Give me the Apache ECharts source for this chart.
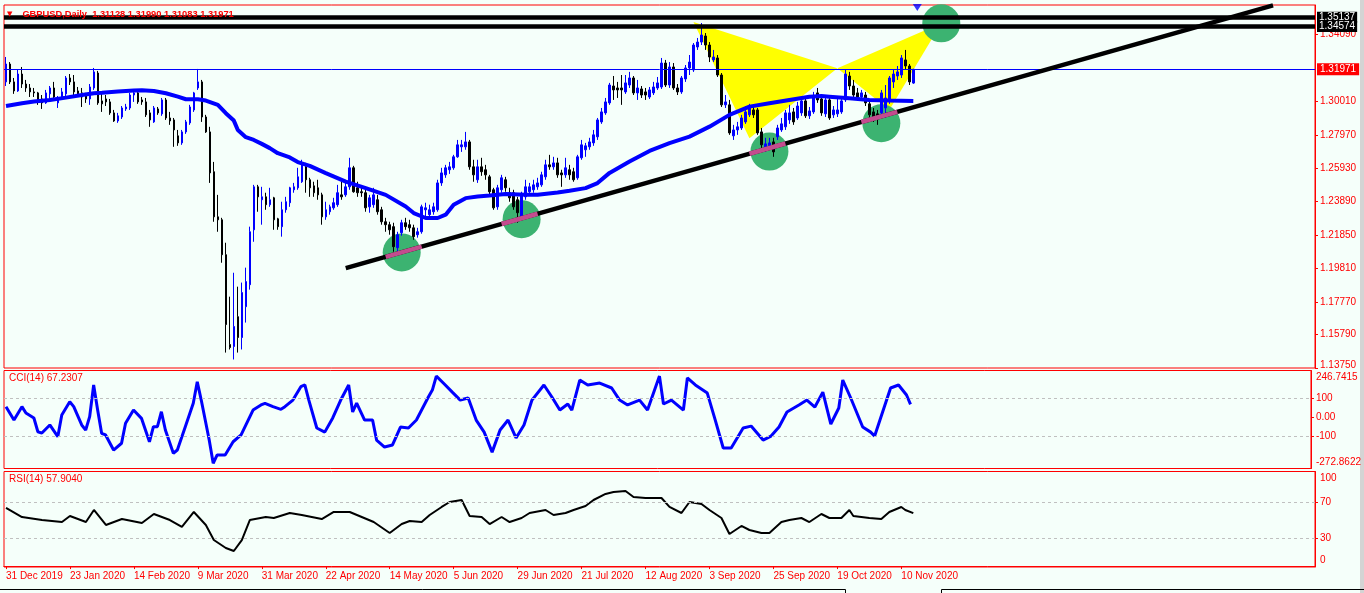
<!DOCTYPE html>
<html><head><meta charset="utf-8">
<script src="https://cdn.jsdelivr.net/npm/echarts@6/dist/echarts.min.js"></script>
<style>html,body{margin:0;padding:0;background:#f5fffa;}#c{width:1364px;height:593px;}</style>
</head><body><div id="c"></div>
<script>
// ---------- data ----------
const dateLabels = ['31 Dec 2019','23 Jan 2020','14 Feb 2020','9 Mar 2020','31 Mar 2020','22 Apr 2020','14 May 2020','5 Jun 2020','29 Jun 2020','21 Jul 2020','12 Aug 2020','3 Sep 2020','25 Sep 2020','19 Oct 2020','10 Nov 2020'];
const labelStep = 16;
const slotCount = 328;
// daily candles [open, close, low, high]
const ohlc = [
[1.3120,1.3229,1.3095,1.3272],[1.3229,1.3120,1.3107,1.3241],[1.3120,1.3065,1.3047,1.3144],[1.3065,1.3168,1.3059,1.3193],
[1.3168,1.3107,1.3083,1.3211],[1.3107,1.3083,1.3059,1.3132],[1.3083,1.3059,1.3028,1.3107],[1.3059,1.3053,1.3028,1.3083],
[1.3053,1.3010,1.2980,1.3059],[1.3016,1.2992,1.2955,1.3040],[1.2992,1.3053,1.2986,1.3071],[1.3047,1.3083,1.3016,1.3095],
[1.3083,1.3028,1.3016,1.3120],[1.2992,1.3022,1.2961,1.3034],[1.3022,1.3059,1.3010,1.3083],[1.3047,1.3144,1.3028,1.3156],
[1.3144,1.3120,1.3101,1.3168],[1.3120,1.3059,1.3040,1.3162],[1.3065,1.3047,1.3028,1.3089],[1.3053,1.3028,1.2967,1.3083],
[1.3034,1.3016,1.2992,1.3053],[1.3016,1.3089,1.2980,1.3107],[1.3083,1.3181,1.3071,1.3205],[1.3174,1.2992,1.2980,1.3187],
[1.3004,1.2986,1.2937,1.3059],[1.3016,1.2998,1.2973,1.3040],[1.2998,1.2931,1.2919,1.3016],[1.2931,1.2882,1.2876,1.2949],
[1.2882,1.2913,1.2870,1.2931],[1.2906,1.2961,1.2894,1.2973],[1.2955,1.2967,1.2943,1.2986],[1.2961,1.3040,1.2949,1.3053],
[1.3040,1.3053,1.2998,1.3071],[1.3053,1.2998,1.2986,1.3071],[1.3010,1.2998,1.2980,1.3028],[1.2998,1.2919,1.2906,1.3022],
[1.2931,1.2888,1.2846,1.2949],[1.2876,1.2961,1.2870,1.2973],[1.2955,1.2931,1.2919,1.2967],[1.2925,1.3010,1.2913,1.3022],
[1.3010,1.2900,1.2888,1.3022],[1.2900,1.2882,1.2858,1.2937],[1.2888,1.2827,1.2724,1.2900],[1.2791,1.2748,1.2730,1.2827],
[1.2748,1.2815,1.2736,1.2827],[1.2815,1.2876,1.2803,1.2888],[1.2870,1.2967,1.2858,1.2980],[1.2949,1.3053,1.2937,1.3059],
[1.3083,1.3120,1.3071,1.3199],[1.3120,1.2906,1.2876,1.3132],[1.2906,1.2815,1.2809,1.2919],[1.2815,1.2565,1.2504,1.2846],
[1.2572,1.2297,1.2267,1.2632],[1.2297,1.2279,1.2206,1.2431],[1.2279,1.2066,1.2017,1.2291],[1.2066,1.1640,1.1469,1.2139],
[1.1518,1.1500,1.1488,1.1810],[1.1506,1.1628,1.1427,1.1956],[1.1688,1.1561,1.1469,1.1871],[1.1561,1.1835,1.1488,1.1896],
[1.1749,1.1902,1.1652,1.1987],[1.1883,1.2206,1.1853,1.2237],[1.2218,1.2480,1.2145,1.2492],[1.2480,1.2419,1.2328,1.2492],
[1.2401,1.2419,1.2249,1.2480],[1.2419,1.2371,1.2340,1.2444],[1.2371,1.2401,1.2358,1.2474],[1.2413,1.2279,1.2218,1.2419],
[1.2285,1.2237,1.2218,1.2291],[1.2237,1.2340,1.2176,1.2389],[1.2340,1.2389,1.2322,1.2419],[1.2383,1.2474,1.2358,1.2480],
[1.2462,1.2480,1.2444,1.2504],[1.2474,1.2541,1.2462,1.2596],[1.2511,1.2626,1.2504,1.2645],[1.2602,1.2523,1.2444,1.2626],
[1.2523,1.2474,1.2419,1.2535],[1.2486,1.2444,1.2419,1.2511],[1.2474,1.2431,1.2401,1.2523],[1.2431,1.2297,1.2249,1.2444],
[1.2297,1.2340,1.2279,1.2389],[1.2328,1.2358,1.2310,1.2371],[1.2352,1.2383,1.2340,1.2413],[1.2371,1.2444,1.2358,1.2492],
[1.2431,1.2419,1.2401,1.2511],[1.2431,1.2480,1.2419,1.2504],[1.2480,1.2596,1.2462,1.2657],[1.2596,1.2450,1.2444,1.2608],
[1.2474,1.2444,1.2419,1.2511],[1.2450,1.2444,1.2419,1.2474],[1.2444,1.2352,1.2328,1.2462],[1.2358,1.2413,1.2322,1.2431],
[1.2371,1.2431,1.2352,1.2474],[1.2401,1.2328,1.2310,1.2431],[1.2340,1.2267,1.2249,1.2358],[1.2267,1.2249,1.2206,1.2291],
[1.2249,1.2218,1.2188,1.2267],[1.2237,1.2115,1.2084,1.2261],[1.2109,1.2188,1.2084,1.2206],[1.2200,1.2261,1.2182,1.2279],
[1.2261,1.2237,1.2218,1.2291],[1.2249,1.2230,1.2206,1.2279],[1.2230,1.2176,1.2157,1.2249],[1.2188,1.2206,1.2170,1.2230],
[1.2206,1.2358,1.2194,1.2371],[1.2340,1.2352,1.2291,1.2383],[1.2310,1.2340,1.2291,1.2371],[1.2328,1.2358,1.2310,1.2383],
[1.2340,1.2504,1.2328,1.2523],[1.2504,1.2565,1.2486,1.2596],[1.2553,1.2596,1.2535,1.2614],[1.2584,1.2602,1.2559,1.2632],
[1.2596,1.2663,1.2584,1.2675],[1.2663,1.2736,1.2657,1.2766],[1.2724,1.2736,1.2693,1.2766],[1.2724,1.2754,1.2706,1.2815],
[1.2754,1.2602,1.2584,1.2766],[1.2602,1.2553,1.2511,1.2645],[1.2523,1.2602,1.2504,1.2645],[1.2602,1.2572,1.2547,1.2657],
[1.2584,1.2553,1.2523,1.2614],[1.2541,1.2450,1.2431,1.2553],[1.2462,1.2352,1.2340,1.2474],[1.2358,1.2474,1.2340,1.2492],
[1.2462,1.2535,1.2444,1.2553],[1.2523,1.2474,1.2450,1.2541],[1.2444,1.2413,1.2389,1.2474],[1.2444,1.2358,1.2340,1.2462],
[1.2401,1.2322,1.2261,1.2419],[1.2297,1.2431,1.2279,1.2450],[1.2419,1.2480,1.2401,1.2523],[1.2450,1.2480,1.2431,1.2504],
[1.2462,1.2492,1.2444,1.2523],[1.2480,1.2504,1.2462,1.2535],[1.2492,1.2553,1.2480,1.2572],[1.2541,1.2614,1.2523,1.2645],
[1.2614,1.2602,1.2584,1.2675],[1.2602,1.2626,1.2584,1.2663],[1.2626,1.2553,1.2535,1.2657],[1.2565,1.2553,1.2480,1.2584],
[1.2553,1.2596,1.2535,1.2657],[1.2584,1.2553,1.2523,1.2614],[1.2572,1.2523,1.2511,1.2596],[1.2535,1.2663,1.2523,1.2675],
[1.2657,1.2736,1.2645,1.2766],[1.2706,1.2730,1.2663,1.2748],[1.2724,1.2754,1.2706,1.2779],[1.2748,1.2797,1.2730,1.2827],
[1.2785,1.2888,1.2766,1.2900],[1.2876,1.2937,1.2864,1.2961],[1.2931,1.2998,1.2919,1.3022],[1.2992,1.3101,1.2980,1.3114],
[1.3095,1.3071,1.3010,1.3156],[1.3083,1.3071,1.3022,1.3120],[1.3083,1.3071,1.2980,1.3162],[1.3059,1.3114,1.3047,1.3162],
[1.3101,1.3144,1.3083,1.3181],[1.3144,1.3053,1.3040,1.3156],[1.3053,1.3083,1.3010,1.3132],[1.3077,1.3040,1.3022,1.3095],
[1.3059,1.3040,1.3010,1.3083],[1.3028,1.3071,1.3016,1.3089],[1.3053,1.3089,1.3040,1.3120],[1.3083,1.3114,1.3071,1.3150],
[1.3089,1.3235,1.3077,1.3266],[1.3235,1.3101,1.3089,1.3254],[1.3101,1.3211,1.3083,1.3241],[1.3211,1.3083,1.3071,1.3235],
[1.3083,1.3059,1.3040,1.3107],[1.3059,1.3144,1.3047,1.3156],[1.3138,1.3205,1.3120,1.3223],[1.3205,1.3241,1.3162,1.3284],
[1.3193,1.3345,1.3181,1.3357],[1.3333,1.3363,1.3315,1.3388],[1.3363,1.3406,1.3345,1.3479],[1.3400,1.3345,1.3315,1.3418],
[1.3345,1.3272,1.3241,1.3363],[1.3254,1.3272,1.3241,1.3315],[1.3266,1.3162,1.3150,1.3284],[1.3162,1.2980,1.2967,1.3174],
[1.2980,1.2998,1.2961,1.3040],[1.2980,1.2809,1.2797,1.3010],[1.2791,1.2827,1.2766,1.2858],[1.2827,1.2846,1.2797,1.2876],
[1.2839,1.2900,1.2827,1.2919],[1.2876,1.2937,1.2864,1.2973],[1.2919,1.2961,1.2906,1.2986],[1.2949,1.2919,1.2900,1.2980],
[1.2949,1.2809,1.2797,1.2961],[1.2815,1.2736,1.2706,1.2839],[1.2718,1.2742,1.2693,1.2779],[1.2724,1.2748,1.2706,1.2779],
[1.2754,1.2693,1.2663,1.2779],[1.2785,1.2839,1.2766,1.2858],[1.2827,1.2864,1.2815,1.2900],[1.2846,1.2931,1.2827,1.2949],
[1.2888,1.2931,1.2864,1.2980],[1.2937,1.2876,1.2858,1.2961],[1.2900,1.2973,1.2888,1.2998],[1.2931,1.3004,1.2913,1.3028],
[1.3004,1.2913,1.2900,1.3022],[1.2913,1.2943,1.2894,1.2967],[1.2937,1.3034,1.2925,1.3059],[1.3053,1.3010,1.2992,1.3083],
[1.3016,1.2931,1.2913,1.3040],[1.2925,1.3010,1.2906,1.3034],[1.3010,1.2900,1.2888,1.3028],[1.2919,1.2949,1.2900,1.2973],
[1.2925,1.2949,1.2906,1.3022],[1.2937,1.3004,1.2925,1.3022],[1.3010,1.3168,1.2998,1.3193],[1.3156,1.3095,1.3071,1.3181],
[1.3095,1.3040,1.3028,1.3132],[1.3053,1.3028,1.3010,1.3083],[1.3028,1.3053,1.3010,1.3071],[1.3040,1.2992,1.2973,1.3059],
[1.2986,1.2919,1.2900,1.2998],[1.2937,1.2906,1.2876,1.2961],[1.2925,1.2900,1.2858,1.2949],[1.2931,1.3053,1.2913,1.3071],
[1.2961,1.3022,1.2900,1.3101],[1.3010,1.3144,1.2986,1.3156],[1.3120,1.3168,1.3083,1.3193],[1.3156,1.3181,1.3132,1.3217],
[1.3162,1.3266,1.3144,1.3284],[1.3254,1.3217,1.3193,1.3315],[1.3217,1.3120,1.3101,1.3229],[1.31128,1.31971,1.31083,1.31990]
];
// moving average [barIndex, value]
const maPoints = [[0,1.2973],[4,1.2990],[7,1.3000],[11,1.3010],[15,1.3024],[19,1.3040],[22,1.3051],[24,1.3054],[28,1.3061],[32,1.3067],[34,1.3069],[37,1.3065],[40,1.3051],[43,1.3030],[45,1.3014],[48,1.3014],[50,1.3006],[53,1.2980],[55,1.2929],[57,1.2884],[58,1.2827],[60,1.2783],[62,1.2766],[64,1.2742],[66,1.2716],[68,1.2685],[71,1.2659],[73,1.2631],[76,1.2608],[80,1.2564],[85,1.2512],[90,1.2472],[95,1.2431],[100,1.2360],[102,1.2320],[105,1.2290],[108,1.2290],[110,1.2310],[112,1.2371],[115,1.2411],[118,1.2421],[121,1.2427],[125,1.2436],[130,1.2431],[133,1.2431],[138,1.2445],[141,1.2456],[145,1.2472],[148,1.2503],[151,1.2565],[156,1.2634],[161,1.2699],[166,1.2746],[171,1.2786],[176,1.2847],[181,1.2919],[186,1.2969],[191,1.2990],[196,1.3010],[201,1.3030],[204,1.3034],[206,1.3030],[211,1.3020],[216,1.3010],[221,1.3006],[227,1.3004]];
const cciPoints = [[0,55],[2,-16],[4,55],[5,21],[7,-5],[8,-78],[9,-85],[11,-42],[13,-104],[14,11],[16,81],[17,55],[19,-42],[20,-69],[21,2],[22,170],[23,37],[24,-86],[25,-95],[27,-175],[29,-139],[30,-33],[32,37],[34,-7],[36,-131],[37,-51],[38,-51],[39,28],[40,-69],[42,-192],[43,-175],[45,-51],[47,73],[48,187],[49,90],[51,-122],[52,-245],[53,-201],[55,-201],[57,-131],[59,-95],[60,-51],[62,37],[64,64],[65,73],[67,55],[69,41],[70,55],[72,90],[74,161],[75,170],[76,90],[78,-58],[80,-80],[82,-5],[84,90],[86,170],[87,27],[88,74],[90,-16],[92,-16],[93,-122],[95,-159],[97,-148],[99,-53],[101,-58],[103,-16],[106,106],[107,143],[108,217],[110,175],[112,132],[114,90],[116,101],[118,-16],[120,-80],[122,-186],[124,-69],[126,-16],[128,-111],[130,-42],[132,90],[135,170],[137,106],[139,37],[141,69],[142,37],[144,196],[146,170],[149,180],[152,154],[154,90],[156,64],[159,90],[161,37],[164,217],[165,69],[167,90],[170,37],[171,207],[173,170],[176,127],[178,-16],[180,-164],[182,-164],[185,-58],[187,-48],[190,-122],[192,-101],[194,-53],[196,27],[199,64],[201,90],[203,53],[205,132],[207,-37],[209,48],[210,196],[212,101],[215,-53],[217,-80],[218,-101],[220,27],[222,154],[224,170],[226,117],[227,67.23]];
const rsiPoints = [[0,63.6],[4,53.7],[9,50.4],[14,48.2],[16,54.8],[20,48.2],[22,61.4],[25,45],[29,51.5],[34,47.1],[37,57],[41,50.4],[44,42.8],[47,59.2],[50,45],[52,28.5],[55,19.8],[57,16.5],[59,28.5],[61,50.4],[65,53.7],[67,52.6],[71,58.1],[74,55.9],[79,51.5],[82,59.2],[86,59.2],[89,53.7],[92,48.2],[96,36.2],[99,46],[101,49.3],[104,48.2],[106,55.9],[109,64.7],[111,70.1],[114,72.3],[116,54.8],[119,53.7],[121,46],[124,53.7],[126,48.2],[129,52.6],[131,58.1],[135,61.4],[137,55.9],[140,58.1],[142,61.4],[145,65.7],[147,72.3],[150,78.9],[152,81.1],[155,82.2],[157,75.6],[160,74.5],[164,74.5],[166,64.7],[169,58.1],[171,70.1],[174,68],[176,61.4],[179,52.6],[181,35.1],[184,43.9],[186,39.5],[189,36.2],[191,36.2],[194,48.2],[196,50.4],[199,52.6],[201,48.2],[204,57],[206,52.6],[209,52.6],[211,61.4],[212,54.8],[216,52.6],[219,51.5],[221,59.2],[224,64.7],[225,61.4],[227,57.9]];
const priceTicks = [1.3409,1.3001,1.2797,1.2593,1.2389,1.2185,1.1981,1.1777,1.1579,1.1375];
const priceRange = [1.1375, 1.3589];
const cciTicks = [246.7415,100,0,-100,-272.8622];
const cciLevels = [100,-100];
const rsiTicks = [100,70,30,0];
const rsiLevels = [70,30];
const resistanceLevels = [1.35137, 1.34574];
const bidPrice = 1.31971;
const trendLine = [[85,1.1984],[317,1.3587]];
const pinkSpans = [[95,104],[124,133],[186,195],[214,223]];
const circles = [[99,1.2080],[129,1.2283],[191,1.2695],[219,1.2868],[234,1.3477]];
const pattern = [[172,1.3485],[186,1.2777],[208,1.3203],[221,1.2949],[234,1.3477]];
const triangles = [[0,1,2],[2,3,4]];
const arrowMark = [[228,1.3574]];
const titleText = 'GBPUSD,Daily  1.31128 1.31990 1.31083 1.31971';

// ---------- chart ----------
const FONT = 'Liberation Sans';
const RED = '#ff0000';
const cats = Array.from({length: slotCount}, (_, i) => String(i));
const trendAt = k => trendLine[0][1] + (k - trendLine[0][0]) * (trendLine[1][1] - trendLine[0][1]) / (trendLine[1][0] - trendLine[0][0]);
const showLabel = i => i % labelStep === 0 && i / labelStep < dateLabels.length;

function yAxisBase(grid, min, max, ticks, tickMarks, fmt, rich) {
  return {
    gridIndex: grid, type: 'value', position: 'right', min: min, max: max,
    axisLine: {show: true, lineStyle: {color: RED, width: 1}},
    axisTick: {show: true, length: 3, customValues: tickMarks, lineStyle: {color: RED}},
    axisLabel: {customValues: ticks, formatter: fmt, color: RED, fontSize: 10, fontFamily: FONT, margin: 5, rich: rich},
    splitLine: {show: false}
  };
}
const labelRich = {
  t14: {color: RED, fontSize: 10, fontFamily: FONT, padding: [14, 0, 0, 0]},
  t8: {color: RED, fontSize: 10, fontFamily: FONT, padding: [8, 0, 0, 0]},
  b12: {color: RED, fontSize: 10, fontFamily: FONT, padding: [0, 0, 12, 0]},
  b6: {color: RED, fontSize: 10, fontFamily: FONT, padding: [0, 0, 6, 0]}
};
const hiddenX = g => ({gridIndex: g, type: 'category', data: cats, boundaryGap: true, show: false});
const gridBase = {left: 4, width: 1311, show: true, borderColor: RED, borderWidth: 1, backgroundColor: '#f5fffa'};
const boxLabel = (text, bg, pad) => ({show: true, position: 'end', distance: 2, formatter: text, color: '#fff',
  backgroundColor: bg, padding: pad, fontSize: 10, fontFamily: FONT});

const option = {
  animation: false,
  backgroundColor: '#f5fffa',
  title: [
    {left: 7, top: 5, padding: 0, z: 20, zlevel: 1, text: '{a|▼}  {b|' + titleText + '}',
     textStyle: {rich: {a: {color: RED, fontSize: 7, fontFamily: 'DejaVu Sans', lineHeight: 12}, b: {color: RED, fontSize: 9.3, fontFamily: FONT, lineHeight: 12}}}},
    {left: 9, top: 373, padding: 0, text: 'CCI(14) 67.2307', textStyle: {color: RED, fontSize: 10, fontWeight: 'normal', fontFamily: FONT}},
    {left: 9, top: 474, padding: 0, text: 'RSI(14) 57.9040', textStyle: {color: RED, fontSize: 10, fontWeight: 'normal', fontFamily: FONT}}
  ],
  grid: [
    Object.assign({top: 5, height: 363}, gridBase),
    Object.assign({top: 370.5, height: 98}, gridBase),
    Object.assign({top: 471.5, height: 95.5}, gridBase)
  ],
  xAxis: [
    hiddenX(0), hiddenX(1),
    {gridIndex: 2, type: 'category', data: cats, boundaryGap: true,
     axisLine: {show: true, lineStyle: {color: RED}},
     axisTick: {show: true, length: 3, interval: i => showLabel(i), alignWithLabel: true, lineStyle: {color: RED}},
     axisLabel: {interval: i => showLabel(i), formatter: (v, i) => dateLabels[Math.round(i / labelStep)] || '',
                 align: 'left', color: RED, fontSize: 10, fontFamily: FONT, margin: 4},
     splitLine: {show: false}}
  ],
  yAxis: [
    yAxisBase(0, priceRange[0], priceRange[1], priceTicks, priceTicks,
      v => v === priceRange[0] ? '{b6|' + v.toFixed(5) + '}' : v.toFixed(5), labelRich),
    yAxisBase(1, cciTicks[4], cciTicks[0], cciTicks, [100, 0, -100],
      v => v === cciTicks[0] ? '{t14|246.7415}' : v === cciTicks[4] ? '{b12|-272.8622}' : (v === 0 ? '0.00' : String(v)), labelRich),
    yAxisBase(2, -1, 103.5, rsiTicks, rsiLevels,
      v => v === 100 ? '{t8|100}' : v === 0 ? '{b12|0}' : String(v), labelRich)
  ],
  series: [
    {type: 'custom', name: 'pattern', xAxisIndex: 0, yAxisIndex: 0, z: 1, silent: true, clip: true,
     data: triangles.map(t => pattern[t[0]]),
     renderItem: (params, api) => {
       const tri = triangles[params.dataIndex];
       return {type: 'polygon', shape: {points: tri.map(i => api.coord(pattern[i]))}, style: {fill: '#ffff00'}};
     }},
    {type: 'scatter', name: 'circles', xAxisIndex: 0, yAxisIndex: 0, z: 2, silent: true,
     symbol: 'circle', symbolSize: 38, itemStyle: {color: '#3cb371', opacity: 1}, data: circles},
    {type: 'candlestick', name: 'GBPUSD', xAxisIndex: 0, yAxisIndex: 0, z: 3, barWidth: 2,
     itemStyle: {color: '#0000ff', color0: '#000000', borderColor: '#0000ff', borderColor0: '#000000', borderWidth: 1},
     data: ohlc,
     markLine: {silent: true, symbol: ['none', 'none'], animation: false, precision: 5,
       data: [
         {yAxis: resistanceLevels[0], lineStyle: {color: '#000', width: 4.5, type: 'solid'},
          label: boxLabel(resistanceLevels[0].toFixed(5), '#000', [1, 2, 0, 2])},
         {yAxis: resistanceLevels[1], lineStyle: {color: '#000', width: 4.5, type: 'solid'},
          label: boxLabel(resistanceLevels[1].toFixed(5), '#000', [0, 2, 1, 2])},
         {yAxis: bidPrice, lineStyle: {color: '#0000ff', width: 1, type: 'solid'},
          label: boxLabel(bidPrice.toFixed(5), RED, [1, 3, 1, 3])}
       ]}},
    {type: 'line', name: 'MA', xAxisIndex: 0, yAxisIndex: 0, z: 4, silent: true, showSymbol: false, symbol: 'none',
     lineStyle: {color: '#0000ff', width: 4}, data: maPoints},
    {type: 'line', name: 'trend', xAxisIndex: 0, yAxisIndex: 0, z: 5, silent: true, symbol: 'none',
     lineStyle: {color: '#000000', width: 4.5}, data: trendLine},
    ...pinkSpans.map(s => ({type: 'line', xAxisIndex: 0, yAxisIndex: 0, z: 6, silent: true, symbol: 'none',
     lineStyle: {color: '#c34c8e', width: 4.5}, data: [[s[0], trendAt(s[0])], [s[1], trendAt(s[1])]]})),
    {type: 'scatter', name: 'arrow', xAxisIndex: 0, yAxisIndex: 0, z: 6, silent: true,
     symbol: 'triangle', symbolRotate: 180, symbolSize: [9, 7], itemStyle: {color: '#0000ff'}, data: arrowMark},
    {type: 'line', name: 'CCI', xAxisIndex: 1, yAxisIndex: 1, silent: true, symbol: 'none',
     lineStyle: {color: '#0000ff', width: 3}, data: cciPoints,
     markLine: {silent: true, symbol: ['none', 'none'], label: {show: false}, precision: 5,
       lineStyle: {color: '#c0c0c0', width: 1, type: [3, 3]}, data: cciLevels.map(v => ({yAxis: v}))}},
    {type: 'line', name: 'RSI', xAxisIndex: 2, yAxisIndex: 2, silent: true, symbol: 'none',
     lineStyle: {color: '#000000', width: 2}, data: rsiPoints,
     markLine: {silent: true, symbol: ['none', 'none'], label: {show: false}, precision: 5,
       lineStyle: {color: '#c0c0c0', width: 1, type: [3, 3]}, data: rsiLevels.map(v => ({yAxis: v}))}}
  ],
  graphic: [
    {type: 'rect', shape: {x: 1360, y: 0, width: 4, height: 593}, style: {fill: '#d4d4d4'}, silent: true},
    {type: 'polyline', shape: {points: [[0, 589.5], [845.5, 589.5], [845.5, 593]]}, style: {stroke: '#000', lineWidth: 1, fill: null}, silent: true},
    {type: 'polyline', shape: {points: [[941.5, 593], [941.5, 589.5], [1364, 589.5]]}, style: {stroke: '#000', lineWidth: 1, fill: null}, silent: true}
  ]
};
const chart = echarts.init(document.getElementById('c'), null, {renderer: 'canvas'});
chart.setOption(option);
</script></body></html>
